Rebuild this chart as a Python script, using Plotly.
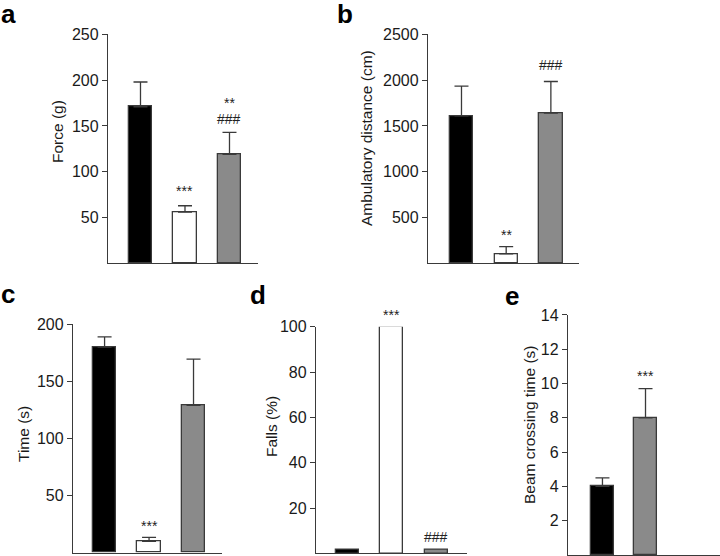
import plotly.graph_objects as go

# ---- data ----
groups3 = [0, 1, 2]
colors3 = ["#000000", "#ffffff", "#8a8a8a"]

a_vals = [171, 56, 119]
a_err = [27, 7, 24]
a_ticks = [50, 100, 150, 200, 250]

b_vals = [1610, 105, 1640]
b_err = [325, 80, 345]
b_ticks = [500, 1000, 1500, 2000, 2500]

c_vals = [180, 10, 129]
c_err = [9, 3.5, 40.5]
c_ticks = [50, 100, 150, 200]

d_vals = [1.5, 100, 1.5]
d_ticks = [20, 40, 60, 80, 100]

groups_e = [0, 1]
colors_e = ["#000000", "#8a8a8a"]
e_vals = [4.0, 8.0]
e_err = [0.5, 1.7]
e_ticks = [2, 4, 6, 8, 10, 12, 14]

FONT = "Liberation Sans, Arial, sans-serif"
LINE = "#3a3a3a"

panels = [
    # key, x, vals, err, colors, ticks, yrange, xdomain, ydomain, xrange
    ("a", groups3, a_vals, a_err, colors3, a_ticks, [0, 250], [0.150, 0.3583], [0.5261, 0.9383], [-0.73, 2.64]),
    ("b", groups3, b_vals, b_err, colors3, b_ticks, [0, 2500], [0.5944, 0.8042], [0.5261, 0.9383], [-0.75, 2.63]),
    ("c", groups3, c_vals, c_err, colors3, c_ticks, [0, 200], [0.1014, 0.3083], [0.0059, 0.4167], [-0.71, 2.64]),
    ("d", groups3, d_vals, None, colors3, d_ticks, [0, 100], [0.4389, 0.6486], [0.0048, 0.4124], [-0.71, 2.69]),
    ("e", groups_e, e_vals, e_err, colors_e, e_ticks, [0, 14], [0.7889, 1.0], [0.0018, 0.4335], [-0.80, 2.73]),
]

fig = go.Figure()
layout = {}
for i, (key, xs, vals, err, cols, ticks, yr, xd, yd, xr) in enumerate(panels):
    n = "" if i == 0 else str(i + 1)
    tr = dict(
        x=xs, y=vals, width=0.52,
        marker=dict(color=cols, line=dict(color=LINE, width=1.3)),
        xaxis="x" + n, yaxis="y" + n, showlegend=False, hoverinfo="skip",
    )
    if err is not None:
        tr["error_y"] = dict(type="data", array=err, arrayminus=[0] * len(err),
                             symmetric=False, color=LINE, thickness=1.3, width=7)
    fig.add_trace(go.Bar(**tr))
    layout["xaxis" + n] = dict(domain=xd, range=xr, anchor="y" + n, showline=True,
                               linecolor=LINE, linewidth=1.3, showticklabels=False,
                               ticks="", showgrid=False, zeroline=False, fixedrange=True)
    layout["yaxis" + n] = dict(domain=yd, range=yr, anchor="x" + n, showline=True,
                               linecolor=LINE, linewidth=1.3, tickvals=ticks,
                               ticks="outside", ticklen=5, tickwidth=1.3, tickcolor=LINE,
                               tickfont=dict(size=16, color="#1a1a1a", family=FONT),
                               showgrid=False, zeroline=False, fixedrange=True)

# significance marks: (panel index, category, text, pixel gap above bar+error)
sig_marks = [
    (0, 1, "***", 14.5), (0, 2, "###", 13), (0, 2, "**", 29.5),
    (1, 1, "**", 11.5), (1, 2, "###", 17),
    (2, 1, "***", 11.5),
    (3, 1, "***", 11.5), (3, 2, "###", 13),
    (4, 1, "***", 12.5),
]
anns = []
for pi, cat, txt, gap in sig_marks:
    key, xs, vals, err, *_ = panels[pi]
    top = vals[cat] + (err[cat] if err is not None else 0)
    n = "" if pi == 0 else str(pi + 1)
    anns.append(dict(x=xs[cat], y=top, xref="x" + n, yref="y" + n, text=txt,
                     showarrow=False, yanchor="middle", yshift=gap,
                     font=dict(size=14, color="#222222", family=FONT)))

# axis titles (paper coordinates)
titles = [
    ("Force (g)", 58, 132),
    ("Ambulatory distance (cm)", 366, 138),
    ("Time (s)", 23, 434),
    ("Falls (%)", 271, 427),
    ("Beam crossing time (s)", 529, 425),
]
for txt, px, py in titles:
    anns.append(dict(x=px / 720, y=1 - py / 556, xref="paper", yref="paper", text=txt,
                     textangle=-90, showarrow=False, xanchor="center", yanchor="middle",
                     font=dict(size=15.5, color="#1a1a1a", family=FONT)))

# panel letters
letters = [("a", 8, 14), ("b", 345, 14), ("c", 8, 294), ("d", 258, 295), ("e", 512, 296)]
for txt, px, py in letters:
    anns.append(dict(x=px / 720, y=1 - py / 556, xref="paper", yref="paper",
                     text="<b>" + txt + "</b>", showarrow=False,
                     xanchor="center", yanchor="middle",
                     font=dict(size=26, color="#000000", family=FONT)))

fig.update_layout(**layout)
fig.update_layout(width=720, height=556,
                  margin=dict(l=0, r=0, t=0, b=0, pad=0, autoexpand=False),
                  paper_bgcolor="white", plot_bgcolor="white",
                  annotations=anns, bargap=0)
fig.write_html("out.html", config={"displayModeBar": False},
               post_script="document.body.style.margin='0';document.body.style.overflow='hidden';")
